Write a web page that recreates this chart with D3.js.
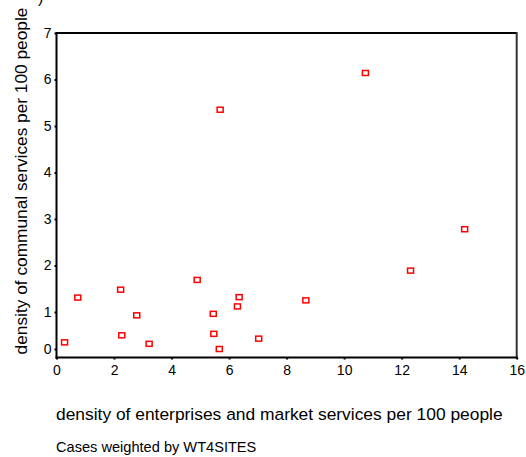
<!DOCTYPE html>
<html lang="en">
<head>
    <meta charset="UTF-8">
    <title>Scatter plot</title>
    <script src="https://cdn.jsdelivr.net/npm/d3@7"></script>
    <style>
        body { margin: 0; background: #fff; }
        text { font-family: "Liberation Sans", Arial, sans-serif; }
    </style>
</head>
<body>
    <svg id="chart" width="526" height="457"></svg>

    <script>
        // data
        const enterprises = [0.28, 0.74, 2.23, 2.27, 2.79, 3.22, 4.89, 5.45, 5.47, 5.66, 6.29, 6.35, 7.03, 8.67, 12.31, 14.19, 5.69, 10.74];
        const communal    = [0.18, 1.31, 1.48, 0.37, 0.91, 0.14, 1.69, 0.95, 0.41, 0.00, 1.12, 1.32, 0.28, 1.25, 1.89, 2.78, 5.35, 6.14];
        const xTicks = [0, 2, 4, 6, 8, 10, 12, 14, 16];
        const yTicks = [0, 1, 2, 3, 4, 5, 6, 7];

        const width = 526;
        const height = 457;

        const svg = d3.select("#chart")
            .attr("width", width)
            .attr("height", height);

        const plotLeft = 56.5, plotRight = 516.7, plotTop = 33, plotBottom = 357.5;

        const x = d3.scaleLinear().domain([0, 16]).range([plotLeft, plotRight]);
        // the 0 tick sits a bit higher than a straight scale would put it
        const y = d3.scaleLinear().domain([0, 1, 7]).range([349, 312, 33]);

        // frame
        svg.append("line")
            .attr("x1", plotLeft).attr("x2", plotRight)
            .attr("y1", plotTop).attr("y2", plotTop)
            .attr("stroke", "#000").attr("stroke-width", 2);
        svg.append("line")
            .attr("x1", plotRight).attr("x2", plotRight)
            .attr("y1", plotTop - 1).attr("y2", plotBottom + 1)
            .attr("stroke", "#333").attr("stroke-width", 2);

        // axes
        const xAxis = svg.append("g")
            .attr("transform", "translate(0," + plotBottom + ")")
            .call(d3.axisBottom(x).tickValues(xTicks).tickSize(2).tickPadding(6).tickFormat(d3.format("d")));
        const yAxis = svg.append("g")
            .attr("transform", "translate(" + plotLeft + ",0)")
            .call(d3.axisLeft(y).tickValues(yTicks).tickSize(2).tickPadding(3).tickFormat(d3.format("d")));

        [xAxis, yAxis].forEach(function (g) {
            g.select(".domain").attr("stroke", "#000").attr("stroke-width", 2);
            g.selectAll(".tick line").attr("stroke", "#000").attr("stroke-width", 2);
            g.selectAll(".tick text")
                .attr("fill", "#000")
                .style("font-size", "14px")
                .style("font-family", "Liberation Sans, Arial, sans-serif");
        });
        xAxis.select(".domain").attr("d", "M" + (plotLeft - 1) + ",0H" + (plotRight + 1));
        yAxis.select(".domain").attr("d", "M0," + (plotTop - 1) + "V" + (plotBottom + 1));

        // points
        svg.append("g")
            .selectAll("rect")
            .data(enterprises.map(function (d, i) { return [d, communal[i]]; }))
            .join("rect")
            .attr("x", function (d) { return x(d[0]) - 3; })
            .attr("y", function (d) { return y(d[1]) - 2.5; })
            .attr("width", 6)
            .attr("height", 5)
            .attr("fill", "none")
            .attr("stroke", "#ff0000")
            .attr("stroke-width", 1.5);

        // labels
        svg.append("text")
            .attr("transform", "translate(27,181) rotate(-90)")
            .attr("text-anchor", "middle")
            .attr("font-size", "17.3px")
            .attr("fill", "#000")
            .text("density of communal services per 100 people");

        svg.append("text")
            .attr("x", 38)
            .attr("y", 3)
            .attr("font-size", "16px")
            .attr("fill", "#000")
            .text(")");

        svg.append("text")
            .attr("x", 56)
            .attr("y", 420)
            .attr("font-size", "17.4px")
            .attr("fill", "#000")
            .text("density of enterprises and market services per 100 people");

        svg.append("text")
            .attr("x", 56)
            .attr("y", 452)
            .attr("font-size", "14.6px")
            .attr("fill", "#000")
            .text("Cases weighted by WT4SITES");
    </script>
</body>
</html>
